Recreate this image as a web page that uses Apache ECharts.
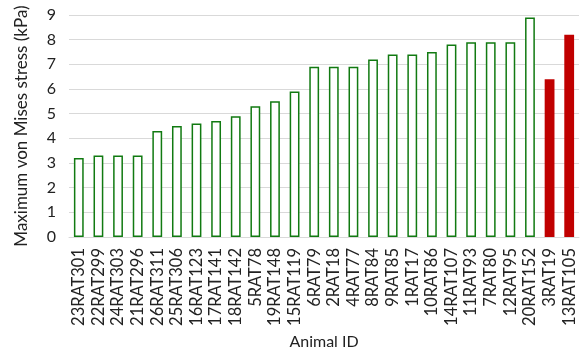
<!DOCTYPE html>
<html><head><meta charset="utf-8">
<script src="https://cdn.jsdelivr.net/npm/echarts@6/dist/echarts.min.js"></script>
<style>html,body{margin:0;padding:0;background:#fff}#c{width:580px;height:349px}</style>
</head><body><div id="c"></div>
<script>
const categories = ["23RAT301","22RAT299","24RAT303","21RAT296","26RAT311","25RAT306","16RAT123","17RAT141","18RAT142","5RAT78","19RAT148","15RAT119","6RAT79","2RAT18","4RAT77","8RAT84","9RAT85","1RAT17","10RAT86","14RAT107","11RAT93","7RAT80","12RAT95","20RAT152","3RAT19","13RAT105"];
const values = [3.2,3.3,3.3,3.3,4.3,4.5,4.6,4.7,4.9,5.3,5.5,5.9,6.9,6.9,6.9,7.2,7.4,7.4,7.5,7.8,7.9,7.9,7.9,8.9,6.4,8.2];
const highlighted = ["3RAT19","13RAT105"];
const yTicks = [0,1,2,3,4,5,6,7,8,9];

const FONT = 'Lato';
const chart = echarts.init(document.getElementById('c'), null, {renderer:'canvas'});
const data = values.map((v,i)=>{
  const hot = highlighted.includes(categories[i]);
  return {value:v, itemStyle: hot ? {color:'#c00000', borderColor:'#c00000', borderWidth:0}
                                  : {color:'#ffffff', borderColor:'#117a11', borderWidth:1.5}};
});
chart.setOption({
  animation:false,
  textStyle:{fontFamily:FONT},
  grid:{left:69, right:1, top:15, bottom:112, containLabel:false, outerBoundsMode:'none'},
  xAxis:{type:'category', data:categories,
    axisLine:{show:true, lineStyle:{color:'#d9d9d9', width:1}},
    axisTick:{show:false},
    axisLabel:{rotate:90, interval:0, fontSize:16.5, color:'#222', fontFamily:FONT, margin:11},
    name:'Animal ID', nameLocation:'middle', nameGap:89,
    nameTextStyle:{fontSize:16, color:'#222', fontFamily:FONT}},
  yAxis:{type:'value', min:yTicks[0], max:yTicks[yTicks.length-1], interval:1,
    axisLine:{show:false}, axisTick:{show:false},
    splitLine:{lineStyle:{color:'#d9d9d9', width:1}},
    axisLabel:{fontSize:16, color:'#222', fontFamily:FONT, margin:13},
    name:'Maximum von Mises stress (kPa)', nameLocation:'middle', nameGap:39,
    nameTextStyle:{fontSize:17, color:'#222', fontFamily:FONT}},
  series:[{type:'bar', data:data, barWidth:'50%'}]
});
</script></body></html>
